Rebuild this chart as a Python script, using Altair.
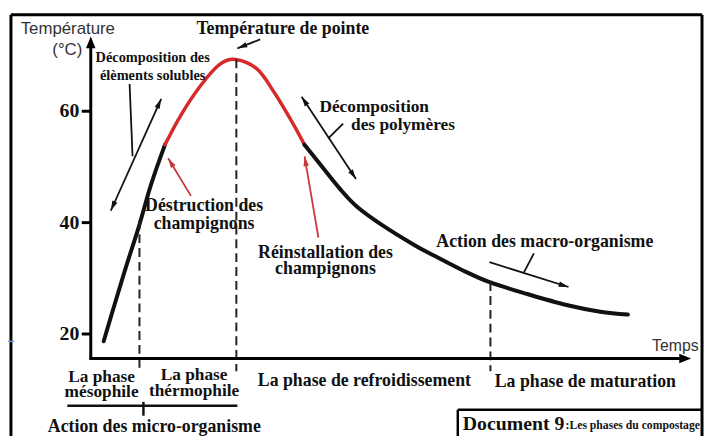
import math
import altair as alt
import pandas as pd

# ---------------- data (time in arbitrary units, temperature in °C) ----------------
time = [2.6, 4.3, 6.3, 8.4, 10.5, 12.8, 15.5, 18.8, 21.9, 24.5, 28.1, 30.9, 33.6,
        36.0, 39.1, 41.8, 44.6, 49.0, 54.4, 57.7, 62.2, 66.8, 73.0, 79.6, 85.2, 89.8]
temp = [18.7, 24.9, 32.0, 39.1, 46.9, 54.0, 59.4, 64.7, 68.4, 69.3, 67.6, 63.5, 58.7,
        54.0, 49.8, 46.2, 43.0, 39.5, 35.9, 34.0, 31.5, 29.3, 27.2, 25.2, 24.0, 23.5]
red_start, red_end = 5, 13          # indices of the thermophilic (red) stretch

y_ticks = [20, 40, 60]

# phase boundaries (dashed verticals): time, top temperature
bound_t = [8.55, 24.67, 66.94]
bound_top = [40.4, 69.3, 29.3]
bound_bottom = 13.3

# text annotations: text, time, temperature (first line), font size, line height
serif_center = [
    ("Température de pointe", 32.4, 74.67, 18, 18),
    ("Décomposition des\nélèments solubles", 10.75, 69.51, 14.5, 18),
    ("Déstruction des\nchampignons", 19.3, 43.02, 18, 18),
    ("Réinstallation des\nchampignons", 39.5, 34.49, 18, 16),
    ("Action des macro-organisme", 75.99, 36.44, 18, 18),
    ("La phase\nmésophile", 2.25, 12.27, 17.5, 15),
    ("La phase\nthérmophile", 17.64, 12.62, 17.5, 16),
    ("La phase de refroidissement", 45.97, 11.6, 18, 18),
    ("La phase de maturation", 82.73, 11.3, 18, 18),
    ("Action des micro-organisme", 11.02, 3.3, 18, 18),
]
serif_left = [
    ("Décomposition", 38.49, 60.8, 17.5),
    ("des polymères", 43.75, 57.6, 17.5),
    ("Document 9", 62.34, 3.9, 20),
    (":Les phases du compostage", 79.44, 3.7, 11.8),
]
sans_center = [
    ("Température", -3.37, 74.67, 17),
    ("(°C)", -3.45, 70.93, 17),
    ("Temps", 97.7, 17.78, 16),
]

# arrows: x1, y1, x2, y2, heads ("end" or "both"), colour
arrows = [
    (28.62, 72.89, 24.84, 71.29, "end", "#111111"),
    (3.78, 42.13, 12.17, 62.22, "both", "#111111"),
    (35.53, 62.58, 44.57, 47.82, "both", "#111111"),
    (66.78, 32.89, 79.93, 28.44, "end", "#111111"),
    (17.11, 44.8, 13.32, 51.56, "end", "#c8373a"),
    (38.32, 37.33, 36.02, 51.91, "end", "#c8373a"),
]
# plain lines: x1, y1, x2, y2, width, colour
connectors = [
    (6.91, 64.89, 7.40, 51.91, 1.8, "#111111"),
    (39.97, 55.11, 42.43, 57.78, 1.8, "#111111"),
    (72.53, 31.11, 74.18, 34.49, 1.8, "#111111"),
    (-3.45, 7.11, 24.84, 7.11, 2.5, "#111111"),
    (9.21, 7.82, 9.21, 5.33, 2.5, "#111111"),
    # outer frame and document box
    (-12.83, 77.33, 102.14, 77.33, 3, "#000000"),
    (-12.83, 0.0, -12.83, 77.33, 3, "#000000"),
    (102.14, 0.0, 102.14, 77.33, 3, "#000000"),
    (61.51, 6.4, 102.14, 6.4, 2.5, "#000000"),
    (61.51, 0.0, 61.51, 6.4, 2.5, "#000000"),
    (-13.6, 18.67, -12.3, 18.67, 1.5, "#6a9be0"),
]
# axes (time / temperature units): origin, ends, tick length
axis_x0 = 0.45
axis_y0 = 15.6
axis_y_end = 72.5
axis_x_end = 99.0
tick_len = 1.5
# axis arrow tips: x, y, direction
axis_tips = [(0.45, 73.42, "up"), (100.33, 15.6, "right")]

# ---------------- scales ----------------
W, H = 704, 428
X_DOM = [-13.32, 102.47]
Y_DOM = [2.12, 78.1]
KX = W / (X_DOM[1] - X_DOM[0])
KY = H / (Y_DOM[1] - Y_DOM[0])
xs = alt.Scale(domain=X_DOM, nice=False, zero=False)
ys = alt.Scale(domain=Y_DOM, nice=False, zero=False)

SERIF = "Liberation Serif"
SANS = "Liberation Sans"


def X(field):
    return alt.X(field, scale=xs, axis=None)


def Y(field):
    return alt.Y(field, scale=ys, axis=None)


def screen_angle(x1, y1, x2, y2):
    dx = (x2 - x1) * KX
    dy = -(y2 - y1) * KY
    return (math.degrees(math.atan2(dx, -dy)) + 360) % 360


# curve table
rows = []
for i, (t, T) in enumerate(zip(time, temp)):
    if i <= red_start:
        rows.append(dict(t=t, T=T, seg="a", col="#111111", w=4))
    if red_start <= i <= red_end:
        rows.append(dict(t=t, T=T, seg="r", col="#d62a2a", w=3.5))
    if i >= red_end:
        rows.append(dict(t=t, T=T, seg="b", col="#111111", w=4))
df_curve = pd.DataFrame(rows)

df_bound = pd.DataFrame(dict(t=bound_t, top=bound_top, bot=[bound_bottom] * 3))

line_rows = [dict(x1=a[0], y1=a[1], x2=a[2], y2=a[3], w=1.8, col=a[5]) for a in arrows]
line_rows += [dict(x1=c[0], y1=c[1], x2=c[2], y2=c[3], w=c[4], col=c[5]) for c in connectors]
# axis lines and y ticks
line_rows += [
    dict(x1=axis_x0, y1=axis_y0, x2=axis_x0, y2=axis_y_end, w=3, col="#000000"),
    dict(x1=axis_x0 - 0.25, y1=axis_y0, x2=axis_x_end, y2=axis_y0, w=3, col="#000000"),
]
line_rows += [dict(x1=axis_x0 - tick_len, y1=float(v), x2=axis_x0, y2=float(v), w=3,
                   col="#000000") for v in y_ticks]
df_lines = pd.DataFrame(line_rows)

head_rows = []
for x1, y1, x2, y2, kind, col in arrows:
    head_rows.append(dict(hx=x2, hy=y2, ang=screen_angle(x1, y1, x2, y2), col=col, big=0))
    if kind == "both":
        head_rows.append(dict(hx=x1, hy=y1, ang=screen_angle(x2, y2, x1, y1), col=col, big=0))
for x, y, d in axis_tips:
    head_rows.append(dict(hx=x, hy=y, ang=0.0 if d == "up" else 90.0, col="#000000", big=1))
df_heads = pd.DataFrame(head_rows)

df_ticklab = pd.DataFrame(dict(t=[axis_x0 - tick_len - 0.4] * len(y_ticks), T=y_ticks,
                               txt=[str(v) for v in y_ticks]))

df_sc = pd.DataFrame(serif_center, columns=["txt", "t", "T", "size", "lh"])
df_sl = pd.DataFrame(serif_left, columns=["txt", "t", "T", "size"])
df_ss = pd.DataFrame(sans_center, columns=["txt", "t", "T", "size"])

ARROW = "M0,0L0.55,2L-0.55,2Z"
AXIS_ARROW = "M0,0L0.8,2L-0.8,2Z"

curve = alt.Chart(df_curve).mark_line(interpolate="cardinal", strokeCap="round").encode(
    x=X("t:Q"),
    y=Y("T:Q"),
    detail="seg:N",
    color=alt.Color("col:N", scale=None),
    strokeWidth=alt.StrokeWidth("w:Q", scale=None),
)

bounds = alt.Chart(df_bound).mark_rule(strokeDash=[9, 5], strokeWidth=2, color="#222222").encode(
    x=X("t:Q"),
    y=Y("top:Q"),
    y2="bot:Q",
)

lines = alt.Chart(df_lines).mark_rule(strokeCap="butt").encode(
    x=X("x1:Q"),
    y=Y("y1:Q"),
    x2="x2:Q",
    y2="y2:Q",
    color=alt.Color("col:N", scale=None),
    strokeWidth=alt.StrokeWidth("w:Q", scale=None),
)

heads = alt.Chart(df_heads[df_heads.big == 0].reset_index(drop=True)).mark_point(
    shape=ARROW, filled=True, size=100, opacity=1, strokeWidth=0).encode(
    x=X("hx:Q"),
    y=Y("hy:Q"),
    angle=alt.Angle("ang:Q", scale=None),
    color=alt.Color("col:N", scale=None),
)

tips = alt.Chart(df_heads[df_heads.big == 1].reset_index(drop=True)).mark_point(
    shape=AXIS_ARROW, filled=True, size=144, opacity=1, strokeWidth=0).encode(
    x=X("hx:Q"),
    y=Y("hy:Q"),
    angle=alt.Angle("ang:Q", scale=None),
    color=alt.Color("col:N", scale=None),
)

ticklabels = alt.Chart(df_ticklab).mark_text(font=SERIF, fontWeight="bold", fontSize=20,
                                             align="right", baseline="middle",
                                             color="#111111").encode(
    x=X("t:Q"),
    y=Y("T:Q"),
    text="txt:N",
)

sc_layers = []
for lh, grp in df_sc.groupby("lh"):
    sc_layers.append(
        alt.Chart(grp.reset_index(drop=True)).mark_text(
            font=SERIF, fontWeight="bold", align="center", baseline="middle",
            color="#111111", lineBreak="\n", lineHeight=float(lh)).encode(
            x=X("t:Q"),
            y=Y("T:Q"),
            text="txt:N",
            size=alt.Size("size:Q", scale=None),
        )
    )

txt_sl = alt.Chart(df_sl).mark_text(font=SERIF, fontWeight="bold", align="left",
                                    baseline="middle", color="#111111").encode(
    x=X("t:Q"),
    y=Y("T:Q"),
    text="txt:N",
    size=alt.Size("size:Q", scale=None),
)

txt_ss = alt.Chart(df_ss).mark_text(font=SANS, align="center", baseline="middle",
                                    color="#333333").encode(
    x=X("t:Q"),
    y=Y("T:Q"),
    text="txt:N",
    size=alt.Size("size:Q", scale=None),
)

chart = alt.layer(curve, bounds, lines, heads, tips, ticklabels, *sc_layers, txt_sl,
                  txt_ss).properties(
    width=W,
    height=H,
    padding=0,
    autosize=alt.AutoSizeParams(type="none"),
    background="white",
).configure_view(stroke=None)

chart.save("out.html", embed_options={"renderer": "svg", "actions": False})
